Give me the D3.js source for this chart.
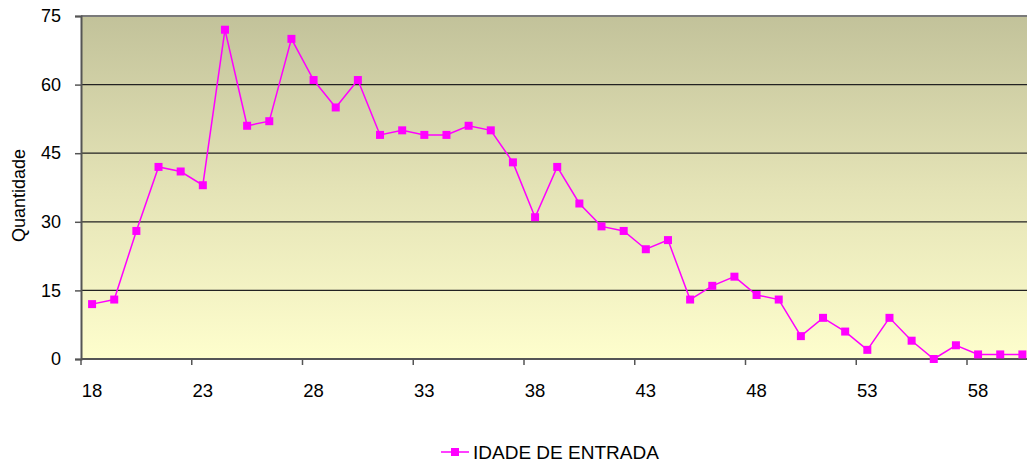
<!DOCTYPE html>
<html>
<head>
<meta charset="utf-8">
<script src="https://cdn.jsdelivr.net/npm/d3@7.9.0/dist/d3.min.js"></script>
<style>
  html, body { margin: 0; padding: 0; background: #fff; overflow: hidden; }
  svg { display: block; font-family: "Liberation Sans", Arial, sans-serif; }
</style>
</head>
<body>
<div id="chart"></div>
<script>
// ---------- Data ----------
const ages = d3.range(18, 61);
const counts = [12, 13, 28, 42, 41, 38, 72, 51, 52, 70, 61, 55, 61, 49, 50, 49, 49, 51, 50, 43,
  31, 42, 34, 29, 28, 24, 26, 13, 16, 18, 14, 13, 5, 9, 6, 2, 9, 4, 0, 3, 1, 1, 1];
const yTicks = [0, 15, 30, 45, 60, 75];
const xTickAges = [18, 23, 28, 33, 38, 43, 48, 53, 58];
const seriesName = "IDADE DE ENTRADA";
const yTitle = "Quantidade";

const data = ages.map((a, i) => ({ age: a, value: counts[i] }));

// ---------- Layout ----------
const width = 1027, height = 464;
const plot = { left: 81, top: 16, bottom: 359, step: 22.15 };
plot.right = plot.left + ages.length * plot.step;
const mk = 8; // marker size

const svg = d3.select("#chart").append("svg")
  .attr("width", width)
  .attr("height", height);

const xScale = d3.scaleBand()
  .domain(ages)
  .range([plot.left, plot.right])
  .padding(0);

const yScale = d3.scaleLinear()
  .domain([0, 75])
  .range([plot.bottom, plot.top]);

const cx = d => xScale(d) + xScale.bandwidth() / 2;

// ---------- Background ----------
const grad = svg.append("defs").append("linearGradient")
  .attr("id", "bg").attr("x1", 0).attr("y1", 0).attr("x2", 0).attr("y2", 1);
grad.append("stop").attr("offset", "0%").attr("stop-color", "#c2c29a");
grad.append("stop").attr("offset", "50%").attr("stop-color", "#e4e3b6");
grad.append("stop").attr("offset", "100%").attr("stop-color", "#fefecd");

svg.append("rect")
  .attr("x", plot.left).attr("y", plot.top)
  .attr("width", plot.right - plot.left)
  .attr("height", plot.bottom - plot.top)
  .attr("fill", "url(#bg)");

// ---------- Gridlines ----------
svg.append("g")
  .selectAll("line")
  .data(yTicks.filter(t => t > 0))
  .join("line")
  .attr("x1", plot.left).attr("x2", plot.right)
  .attr("y1", d => yScale(d)).attr("y2", d => yScale(d))
  .attr("stroke", d => d === 75 ? "#7a7a7a" : "#222")
  .attr("stroke-width", d => d === 75 ? 2 : 1.2);

// ---------- Y axis ----------
const yAxis = svg.append("g")
  .attr("transform", `translate(${plot.left},0)`)
  .call(d3.axisLeft(yScale).tickValues(yTicks).tickSize(6).tickPadding(14));
yAxis.select(".domain").attr("stroke", "#555").attr("stroke-width", 2);
yAxis.selectAll(".tick line").attr("stroke", "#555").attr("stroke-width", 1.5);
yAxis.selectAll(".tick text")
  .attr("font-size", 18).attr("fill", "#000")
  .attr("font-family", "Liberation Sans, Arial, sans-serif");

// ---------- X axis ----------
svg.append("line")
  .attr("x1", plot.left).attr("x2", plot.right)
  .attr("y1", plot.bottom).attr("y2", plot.bottom)
  .attr("stroke", "#555").attr("stroke-width", 2);

svg.append("g")
  .selectAll("line")
  .data(xTickAges)
  .join("line")
  .attr("x1", d => xScale(d)).attr("x2", d => xScale(d))
  .attr("y1", plot.bottom).attr("y2", plot.bottom + 6)
  .attr("stroke", "#555").attr("stroke-width", 1.5);

svg.append("g")
  .selectAll("text")
  .data(xTickAges)
  .join("text")
  .attr("x", d => cx(d))
  .attr("y", 397)
  .attr("text-anchor", "middle")
  .attr("font-size", 18.5)
  .text(d => d);

// ---------- Y title ----------
svg.append("text")
  .attr("transform", `translate(25,${(plot.top + plot.bottom) / 2 + 8}) rotate(-90)`)
  .attr("text-anchor", "middle")
  .attr("font-size", 18)
  .text(yTitle);

// ---------- Series ----------
const line = d3.line()
  .x(d => cx(d.age))
  .y(d => yScale(d.value));

svg.append("path")
  .datum(data)
  .attr("d", line)
  .attr("fill", "none")
  .attr("stroke", "#ff00ff")
  .attr("stroke-width", 1.5);

svg.append("g")
  .selectAll("rect")
  .data(data)
  .join("rect")
  .attr("x", d => cx(d.age) - mk / 2)
  .attr("y", d => yScale(d.value) - mk / 2)
  .attr("width", mk).attr("height", mk)
  .attr("fill", "#ff00ff");

// ---------- Legend ----------
const legend = svg.append("g").attr("transform", "translate(441,452)");
legend.append("line")
  .attr("x1", 0).attr("x2", 28).attr("y1", 0).attr("y2", 0)
  .attr("stroke", "#ff00ff").attr("stroke-width", 1.5);
legend.append("rect")
  .attr("x", 14 - mk / 2).attr("y", -mk / 2).attr("width", mk).attr("height", mk)
  .attr("fill", "#ff00ff");
legend.append("text")
  .attr("x", 32).attr("y", 7)
  .attr("font-size", 19)
  .text(seriesName);
</script>
</body>
</html>
